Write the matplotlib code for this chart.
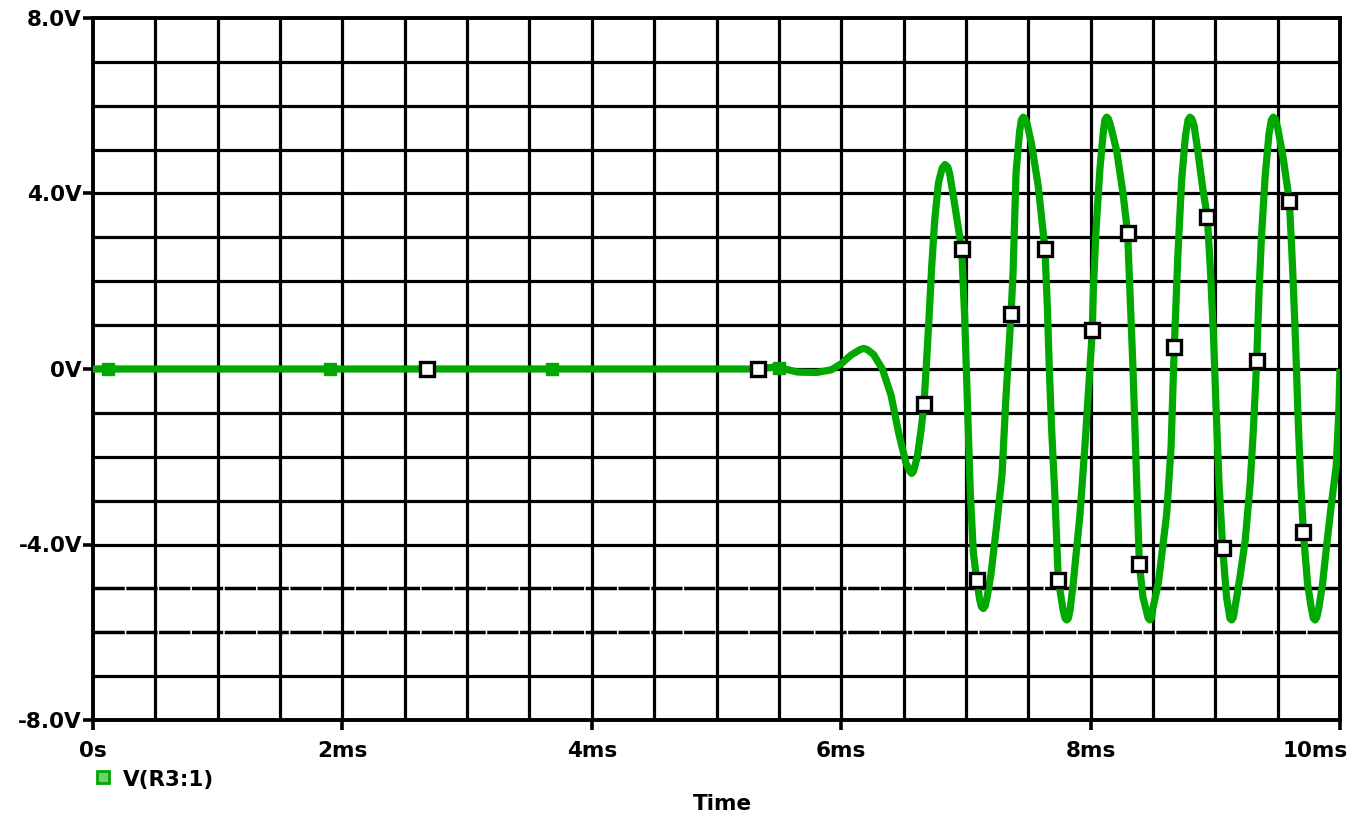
import matplotlib
matplotlib.use('Agg')
import matplotlib.pyplot as plt
import numpy as np
from matplotlib.transforms import ScaledTranslation

# ---- data (time in ms, voltage in V) ----
t_ms = [0.0, 5.33, 5.45, 5.55, 5.65, 5.80, 5.92, 6.00, 6.08, 6.15, 6.18, 6.21, 6.26, 6.33,
        6.40, 6.46, 6.52, 6.55, 6.565, 6.58, 6.61, 6.64, 6.664, 6.685, 6.705, 6.725, 6.75, 6.78,
        6.81, 6.832, 6.855,
        6.87, 6.91, 6.94, 6.966, 6.99, 7.01, 7.035, 7.06, 7.087, 7.11, 7.125, 7.14, 7.155,
        7.17, 7.20, 7.245, 7.29, 7.32, 7.362, 7.378, 7.402, 7.43, 7.445, 7.46, 7.475,
        7.49, 7.527, 7.58, 7.634, 7.653, 7.669, 7.687, 7.714, 7.741, 7.78, 7.795, 7.808, 7.822,
        7.835, 7.861, 7.915, 7.955, 7.982, 8.014, 8.022, 8.043, 8.075, 8.10, 8.115, 8.129, 8.143,
        8.16, 8.21, 8.26, 8.297, 8.318, 8.34, 8.365, 8.391, 8.42, 8.45, 8.462, 8.476, 8.49,
        8.50, 8.543, 8.61, 8.645, 8.671, 8.70, 8.73, 8.76, 8.782, 8.797, 8.812,
        8.83, 8.86, 8.90, 8.936, 8.96, 8.985, 9.005, 9.03, 9.059, 9.09, 9.117, 9.131, 9.145,
        9.16, 9.20, 9.24, 9.28, 9.305, 9.332, 9.35, 9.37, 9.40, 9.43, 9.45, 9.465, 9.48,
        9.50, 9.545, 9.594, 9.62, 9.645, 9.665, 9.685, 9.706, 9.74, 9.77, 9.786, 9.80, 9.814,
        9.83, 9.86, 9.89, 9.93, 9.97, 9.99, 10.0]
v_volts = [0.0, 0.0, 0.04, 0.0, -0.07, -0.08, -0.02, 0.12, 0.32, 0.44, 0.47, 0.44, 0.33, 0.0,
           -0.6, -1.45, -2.15, -2.33, -2.38, -2.33, -2.0, -1.4, -0.8, 0.2, 1.2, 2.3, 3.4, 4.25,
           4.58, 4.66, 4.6,
           4.45, 3.75, 3.2, 2.73, 1.2, -0.6, -2.8, -4.2, -4.81, -5.25, -5.42, -5.46, -5.4,
           -5.2, -4.7, -3.6, -2.4, -0.7, 1.26, 2.18, 4.47, 5.4, 5.68, 5.74, 5.7,
           5.6, 5.12, 4.17, 2.73, 1.42, 0.0, -1.34, -2.91, -4.81, -5.5, -5.68, -5.72, -5.68,
           -5.5, -4.88, -3.31, -1.73, -0.55, 0.90, 1.81, 3.15, 4.57, 5.35, 5.68, 5.74, 5.7,
           5.55, 4.96, 4.0, 3.09, 1.6, 0.0, -2.2, -4.45, -5.2, -5.55, -5.68, -5.72, -5.66,
           -5.45, -4.88, -3.31, -1.8, 0.5, 2.6, 4.3, 5.3, 5.68, 5.74, 5.7,
           5.55, 4.96, 4.1, 3.47, 2.3, 0.8, -0.8, -2.6, -4.08, -5.2, -5.68, -5.72, -5.66,
           -5.4, -4.7, -3.9, -2.6, -1.4, 0.18, 1.7, 3.0, 4.4, 5.35, 5.68, 5.74, 5.7,
           5.5, 4.8, 3.83, 2.3, 0.5, -1.2, -2.6, -3.71, -4.9, -5.45, -5.68, -5.72, -5.66,
           -5.45, -4.9, -4.1, -3.1, -2.2, -1.0, 0.0]

# white square trace symbols
box_t = [2.68, 5.33, 6.664, 6.966, 7.087, 7.362, 7.634, 7.741, 8.014, 8.297,
         8.391, 8.671, 8.936, 9.059, 9.332, 9.594, 9.706]
box_v = [0.0, 0.0, -0.80, 2.73, -4.81, 1.26, 2.73, -4.81, 0.90, 3.09,
         -4.45, 0.50, 3.47, -4.08, 0.18, 3.83, -3.71]

# small green data-point squares on the flat part
dot_t = [0.12, 1.90, 3.68, 5.50]
dot_v = [0.0, 0.0, 0.0, 0.03]

x_ticks = [0, 2, 4, 6, 8, 10]
x_tick_labels = ['0s', '2ms', '4ms', '6ms', '8ms', '10ms']
y_ticks = [-8, -4, 0, 4, 8]
y_tick_labels = ['-8.0V', '-4.0V', '0V', '4.0V', '8.0V']
trace_name = 'V(R3:1)'
x_title = 'Time'

GREEN = '#00A800'
W, H = 1358, 825

fig = plt.figure(figsize=(W / 100, H / 100), dpi=100)
ax = fig.add_axes([93 / W, 105 / H, 1247 / W, 702 / H])
ax.set_xlim(0, 10)
ax.set_ylim(-8, 8)

# grid
for xg in np.arange(0.5, 10, 0.5):
    ax.axvline(xg, color='black', lw=2.3, zorder=1)
for yg in np.arange(-7, 8, 1):
    if yg in (-5, -6):
        ax.axhline(yg, color='black', lw=2.5, ls=(0, (9, 0.45)), zorder=1)
    else:
        ax.axhline(yg, color='black', lw=2.3, zorder=1)

ax.plot(t_ms, v_volts, color=GREEN, lw=5.2, solid_joinstyle='round',
        solid_capstyle='butt', zorder=3)
ax.plot(dot_t, dot_v, ls='none', marker='s', ms=8.5, color=GREEN, zorder=3)
ax.plot(box_t, box_v, ls='none', marker='s', ms=10.5, mfc='white', mec='black',
        mew=2.4, zorder=4)

for s in ax.spines.values():
    s.set_linewidth(2.8)
    s.set_color('black')

ax.set_xticks(x_ticks)
ax.set_xticklabels(x_tick_labels)
ax.set_yticks(y_ticks)
ax.set_yticklabels(y_tick_labels)
ax.tick_params(axis='both', direction='out', length=7, width=2.6, colors='black',
               labelsize=15.5)
ax.tick_params(axis='x', pad=8)
ax.tick_params(axis='y', pad=1)
for lab in ax.get_xticklabels() + ax.get_yticklabels():
    lab.set_fontweight('bold')
last = ax.get_xticklabels()[-1]
last.set_ha('right')
last.set_transform(last.get_transform() + ScaledTranslation(8 / 100, 0, fig.dpi_scale_trans))

# legend-like trace label
fig.lines.append(plt.Line2D([103 / W], [1 - 777 / H], transform=fig.transFigure,
                            ls='none', marker='s', ms=8, mfc='#6fd06f', mec=GREEN, mew=2))
fig.text(123 / W, 1 - 780 / H, trace_name, fontsize=15.5, fontweight='bold',
         ha='left', va='center')
fig.text(722 / W, 1 - 804 / H, x_title, fontsize=15.5, fontweight='bold',
         ha='center', va='center')

fig.savefig('out.png', dpi=100, facecolor='white')
